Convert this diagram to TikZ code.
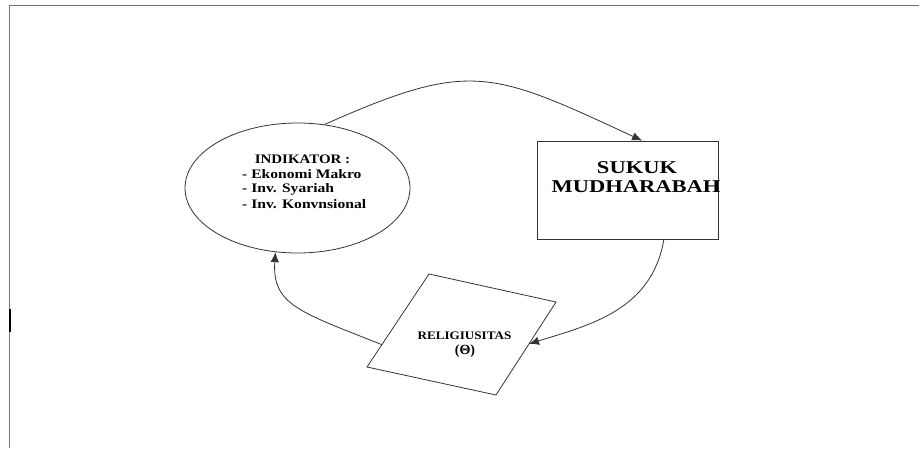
\documentclass[tikz,border=0pt]{standalone}
\usepackage{fontspec}
\setmainfont{Liberation Serif}
\usetikzlibrary{shapes.geometric,arrows.meta,calc}
\tikzset{
  shapeline/.style={draw=black!80, line width=0.8pt},
  conn/.style={draw=black!80, line width=0.8pt, -{Latex[length=10pt,width=8.5pt]}},
  indtxt/.style={inner sep=0pt, font=\bfseries\fontsize{13}{15}\selectfont},
  bigtxt/.style={inner sep=0pt, align=center, font=\bfseries\fontsize{18}{19}\selectfont},
  reltxt/.style={inner sep=0pt, align=center, font=\bfseries\fontsize{11.5}{15}\selectfont},
}
\newcommand{\sx}[2]{\scalebox{#1}[1]{#2}}
\begin{document}
\begin{tikzpicture}[x=1pt,y=-1pt]
\useasboundingbox (0,0) rectangle (919,448);
% frame
\draw[black!55, line width=1.4pt] (9.5,448) -- (9.5,5.5) -- (919,5.5);
\draw[black, line width=2pt] (9.5,309) -- (9.5,332);
% ellipse
\node[shapeline, ellipse, minimum width=225pt, minimum height=130pt, inner sep=0pt] (ind) at (297.5,188) {};
\node[indtxt] (indt) at (302.5,159) {\sx{1.15}{INDIKATOR :}};
\node[indtxt, anchor=west] (i1) at (242,174) {\sx{1.2}{- Ekonomi Makro}};
\node[indtxt, anchor=west] (i2) at (242,189) {\sx{1.2}{- Inv. Syariah}};
\node[indtxt, anchor=west] (i3) at (242,204) {\sx{1.2}{- Inv. Konvnsional}};
% rectangle
\node[shapeline, rectangle, minimum width=181pt, minimum height=98pt, inner sep=0pt] (sk) at (627.5,190) {};
\node[bigtxt] (s1) at (637,168) {\sx{1.25}{SUKUK}};
\node[bigtxt] (s2) at (636,187) {\sx{1.25}{MUDHARABAH}};
% parallelogram
\coordinate (pt) at (429,274);
\coordinate (pr) at (556,302);
\coordinate (pb) at (496,395);
\coordinate (pl) at (367,367);
\draw[shapeline, fill=white] (pt) -- (pr) -- (pb) -- (pl) -- cycle;
\node[reltxt] (r1) at (464.5,336) {\sx{1.14}{RELIGIUSITAS}};
\node[reltxt, font=\bfseries\fontsize{14}{15}\selectfont] (r2) at (465,351) {(Θ)};
% connectors
\draw[conn] (ind.67) .. controls (470,60) and (490,70) .. ($(sk.north west)!0.58!(sk.north east)$);
\draw[conn] ($(sk.south west)!0.7!(sk.south east)$) .. controls (652,310) and (590,325) .. ($(pr)!0.45!(pb)$);
\draw[conn] ($(pl)!0.24!(pt)$) .. controls (300,312) and (272,305) .. (ind.251);
\end{tikzpicture}
\end{document}
